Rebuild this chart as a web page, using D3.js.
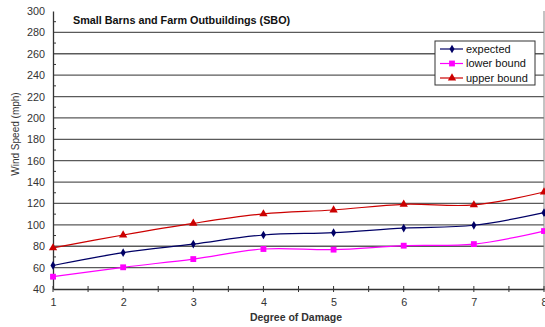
<!DOCTYPE html>
<html>
<head>
<meta charset="utf-8">
<script src="https://cdn.jsdelivr.net/npm/d3@7/dist/d3.min.js"></script>
<style>
  html, body { margin: 0; padding: 0; background: #fff; }
  svg { display: block; font-family: "Liberation Sans", Arial, sans-serif; }
</style>
</head>
<body>
<svg id="chart" width="545" height="327"></svg>
<script>
// Damage states and wind speeds (mph) for each estimate
const degrees = [1, 2, 3, 4, 5, 6, 7, 8];
const expected = [62, 74, 82, 90.5, 92.7, 97, 99.6, 111.4];
const lowerBound = [51.5, 60.3, 68, 77.4, 76.8, 80.5, 82, 94.2];
const upperBound = [78.4, 90.5, 101.4, 110.2, 113.9, 119.2, 118.6, 130.7];
const yTicks = [40, 60, 80, 100, 120, 140, 160, 180, 200, 220, 240, 260, 280, 300];
const seriesNames = ["expected", "lower bound", "upper bound"];

const series = [
  { name: seriesNames[0], values: expected, color: "#000066", marker: d3.symbolDiamond, size: 22 },
  { name: seriesNames[1], values: lowerBound, color: "#ff00ff", marker: d3.symbolSquare, size: 34 },
  { name: seriesNames[2], values: upperBound, color: "#cc0000", marker: d3.symbolTriangle, size: 30 }
];

const svg = d3.select("#chart");
const plotLeft = 53, plotRight = 544, plotTop = 11, plotBottom = 289;

const x = d3.scaleLinear().domain([1, 8]).range([plotLeft, plotRight]);
const y = d3.scaleLinear().domain([40, 300]).range([plotBottom, plotTop]);

// horizontal gridlines
svg.append("g")
  .selectAll("line")
  .data(yTicks.filter(v => v > 40 && v < 300))
  .join("line")
  .attr("x1", plotLeft).attr("x2", plotRight)
  .attr("y1", d => y(d)).attr("y2", d => y(d))
  .attr("stroke", "#5a5a5a").attr("stroke-width", 1.3);

// right frame edge
svg.append("line")
  .attr("x1", plotRight).attr("x2", plotRight).attr("y1", plotTop).attr("y2", plotBottom)
  .attr("stroke", "#888").attr("stroke-width", 1);

// y axis
const yAxis = d3.axisLeft(y).tickValues(yTicks).tickSize(0).tickPadding(8);
const gy = svg.append("g").attr("transform", `translate(${plotLeft},0)`).call(yAxis);
gy.select(".domain").attr("stroke", "#333").attr("stroke-width", 1.3);
gy.selectAll("text").attr("font-size", 10.8).attr("fill", "#333");

// minor ticks on the value axis
svg.append("g").selectAll("line")
  .data(d3.range(50, 300, 20))
  .join("line")
  .attr("x1", plotLeft).attr("x2", plotLeft + 3)
  .attr("y1", d => y(d)).attr("y2", d => y(d))
  .attr("stroke", "#333").attr("stroke-width", 1);

// x axis
const xAxis = d3.axisBottom(x).tickValues(degrees).tickFormat(d3.format("d")).tickSize(0).tickPadding(9);
const gx = svg.append("g").attr("transform", `translate(0,${plotBottom})`).call(xAxis);
gx.select(".domain").attr("stroke", "#333").attr("stroke-width", 1.3);
gx.selectAll("text").attr("font-size", 10.8).attr("fill", "#333");

svg.append("g").selectAll("line")
  .data(d3.range(1, 8.01, 0.5))
  .join("line")
  .attr("x1", d => x(d)).attr("x2", d => x(d))
  .attr("y1", plotBottom - 3).attr("y2", plotBottom + 3)
  .attr("stroke", "#333").attr("stroke-width", 1);

// axis titles
svg.append("text")
  .attr("x", 296).attr("y", 321)
  .attr("text-anchor", "middle")
  .attr("font-size", 10.5).attr("font-weight", "bold").attr("fill", "#333")
  .text("Degree of Damage");

svg.append("text")
  .attr("transform", "translate(19,134) rotate(-90)")
  .attr("text-anchor", "middle")
  .attr("font-size", 10).attr("fill", "#333")
  .text("Wind Speed (mph)");

// chart title
svg.append("text")
  .attr("x", 73).attr("y", 24)
  .attr("font-size", 10.8).attr("font-weight", "bold").attr("fill", "#111")
  .text("Small Barns and Farm Outbuildings (SBO)");

// series lines and markers
const line = d3.line()
  .x((d, i) => x(degrees[i]))
  .y(d => y(d))
  .curve(d3.curveCatmullRom.alpha(0.5));

series.forEach(s => {
  svg.append("path")
    .attr("d", line(s.values))
    .attr("fill", "none")
    .attr("stroke", s.color)
    .attr("stroke-width", 1.2);
  svg.append("g").selectAll("path")
    .data(s.values)
    .join("path")
    .attr("transform", (d, i) => `translate(${x(degrees[i])},${y(d)})`)
    .attr("d", d3.symbol().type(s.marker).size(s.size))
    .attr("fill", s.color);
});

// legend
const lg = svg.append("g").attr("transform", "translate(435,41)");
lg.append("rect")
  .attr("width", 100).attr("height", 44)
  .attr("fill", "#fff").attr("stroke", "#333").attr("stroke-width", 1);
series.forEach((s, i) => {
  const cy = 8 + i * 14.5;
  lg.append("line")
    .attr("x1", 5).attr("x2", 28).attr("y1", cy).attr("y2", cy)
    .attr("stroke", s.color).attr("stroke-width", 1.2);
  lg.append("path")
    .attr("transform", `translate(17,${cy})`)
    .attr("d", d3.symbol().type(s.marker).size(s.size))
    .attr("fill", s.color);
  lg.append("text")
    .attr("x", 31).attr("y", cy + 3.8)
    .attr("font-size", 11).attr("fill", "#111")
    .text(s.name);
});
</script>
</body>
</html>
